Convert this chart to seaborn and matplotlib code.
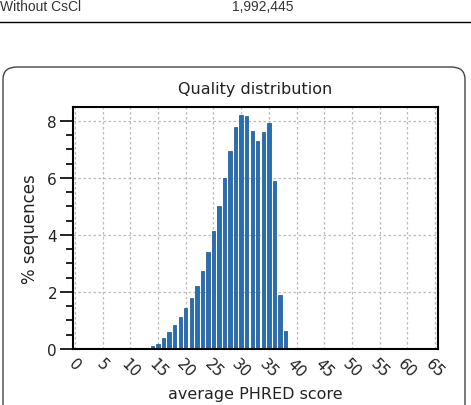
import numpy as np
import pandas as pd
import seaborn as sns
import matplotlib.pyplot as plt
from matplotlib.ticker import MultipleLocator
from matplotlib.patches import FancyBboxPatch
from matplotlib.lines import Line2D

scores = list(range(13, 39))
pct_sequences = [0.02, 0.10, 0.17, 0.37, 0.60, 0.84, 1.11, 1.43, 1.78, 2.20,
                 2.75, 3.39, 4.13, 5.03, 5.99, 6.96, 7.78, 8.22, 8.16, 7.64,
                 7.29, 7.63, 7.93, 5.91, 1.89, 0.62]
xticks = list(range(0, 70, 5))
yticks = [0, 2, 4, 6, 8]

df = pd.DataFrame({'score': scores, 'pct': pct_sequences})

fig = plt.figure(figsize=(4.71, 4.06), dpi=100)

# table row + rule above the figure panel
fig.text(0.0, 0.983, 'Without CsCl', fontsize=10, color='#333333',
         family='Liberation Sans', va='center', ha='left')
fig.text(0.492, 0.983, '1,992,445', fontsize=10, color='#333333',
         family='Liberation Sans', va='center', ha='left')
fig.add_artist(Line2D([0, 1], [1 - 23 / 406, 1 - 23 / 406], color='black',
                      linewidth=1, transform=fig.transFigure))

# rounded panel frame
box = FancyBboxPatch((3 / 471, -0.1), 462 / 471, 1 - 68 / 406 + 0.1,
                     boxstyle='round,pad=0,rounding_size=0.03',
                     transform=fig.transFigure, facecolor='none',
                     edgecolor='#444444', linewidth=1)
fig.add_artist(box)

ax = fig.add_axes([73 / 471, 1 - 350 / 406, (438 - 73) / 471, (350 - 108) / 406])
sns.barplot(data=df, x='score', y='pct', native_scale=True, width=0.62,
            color='#2370b8', edgecolor='#1a4f8a', linewidth=0.5,
            saturation=1, ax=ax)

ax.set_xlim(-0.36, 65.54)
ax.set_ylim(0, 8.49)
ax.set_xticks(xticks)
ax.set_xticklabels([str(t) for t in xticks], rotation=-45, ha='center',
                   fontsize=11)
ax.set_yticks(yticks)
ax.set_yticklabels([str(t) for t in yticks], fontsize=11)
ax.yaxis.set_minor_locator(MultipleLocator(0.5))
ax.tick_params(axis='x', length=0, pad=5, colors='#222222')
ax.tick_params(axis='y', which='major', length=9.5, width=1.4, pad=2,
               colors='#222222')
ax.tick_params(axis='y', which='minor', length=5, width=1.4, colors='#222222')
ax.grid(True, which='major', linestyle=(0, (2, 2)), color='#bbbbbb',
        linewidth=0.9)
ax.set_axisbelow(True)
for s in ax.spines.values():
    s.set_color('black')
    s.set_linewidth(1.5)

ax.set_title('Quality distribution', fontsize=11.5, color='#222222', pad=10)
ax.set_xlabel('average PHRED score', fontsize=11.5, color='#222222',
              labelpad=4)
ax.set_ylabel('% sequences', fontsize=12, color='#222222', labelpad=6)

fig.savefig('out.png', dpi=100)
